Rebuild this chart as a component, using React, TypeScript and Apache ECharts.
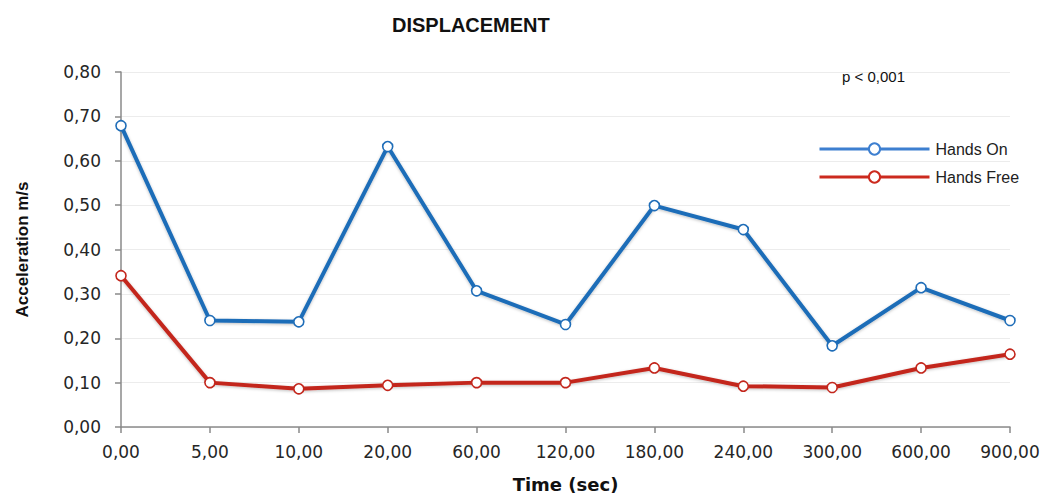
import React, { useEffect, useRef } from "react";
import * as echarts from "echarts";

const categories = ["0,00", "5,00", "10,00", "20,00", "60,00", "120,00", "180,00", "240,00", "300,00", "600,00", "900,00"];
const handsOn = [0.679, 0.24, 0.237, 0.632, 0.307, 0.231, 0.499, 0.445, 0.183, 0.314, 0.24];
const handsFree = [0.341, 0.1, 0.086, 0.094, 0.1, 0.1, 0.133, 0.092, 0.089, 0.133, 0.164];
const yTicks = { min: 0, max: 0.8, interval: 0.1 };

const BLUE = "#1f6db8";
const RED = "#c3261c";

export default function App() {
  const ref = useRef<HTMLDivElement>(null);
  useEffect(() => {
    document.body.style.margin = "0";
    const chart = echarts.init(ref.current!, null, { renderer: "svg" });
    const mkSeries = (name: string, data: number[], color: string) => ({
      name,
      type: "line",
      data,
      symbol: "circle",
      symbolSize: 10,
      showAllSymbol: true,
      itemStyle: { color: "#ffffff", borderColor: color, borderWidth: 1.6 },
      lineStyle: {
        color,
        width: 4,
        shadowColor: "rgba(0,0,0,0.25)",
        shadowBlur: 3,
        shadowOffsetY: 1,
      },
      emphasis: { disabled: true },
    });
    chart.setOption({
      animation: false,
      title: {
        text: "DISPLACEMENT",
        left: 387,
        top: 10,
        textStyle: { fontFamily: "Liberation Sans", fontWeight: "bold", fontSize: 20, color: "#111" },
      },
      graphic: [
        {
          type: "text",
          left: 842,
          top: 69,
          z: 100,
          style: { text: "p < 0,001", font: "15px 'Liberation Sans'", fill: "#111" },
        },
      ],
      legend: {
        orient: "vertical",
        left: 813,
        top: 136,
        itemWidth: 110,
        itemHeight: 14,
        itemGap: 12,
        textStyle: { fontFamily: "Liberation Sans", fontSize: 16, color: "#222", padding: [0, 0, 4, 1] },
        data: [
          { name: "Hands On", itemStyle: { color: "#fff", borderColor: "#3d7fd0", borderWidth: 2 }, lineStyle: { color: "#3d7fd0", width: 3 } },
          { name: "Hands Free", itemStyle: { color: "#fff", borderColor: "#cc2a1e", borderWidth: 2 }, lineStyle: { color: "#cc2a1e", width: 3 } },
        ],
      },
      grid: { left: 121, right: 35, top: 72, bottom: 65 },
      xAxis: {
        type: "category",
        data: categories,
        boundaryGap: false,
        name: "Time (sec)",
        nameLocation: "middle",
        nameGap: 48,
        nameTextStyle: { fontFamily: "DejaVu Sans", fontWeight: "bold", fontSize: 18, color: "#111" },
        axisLine: { lineStyle: { color: "#8a8a8a", width: 1.5 } },
        axisTick: { show: true, length: 6, lineStyle: { color: "#8a8a8a", width: 1.5 } },
        axisLabel: { margin: 16, fontFamily: "DejaVu Sans", fontSize: 17, color: "#262626", interval: 0 },
        splitLine: { show: false },
      },
      yAxis: {
        type: "value",
        min: yTicks.min,
        max: yTicks.max,
        interval: yTicks.interval,
        name: "Acceleration m/s",
        nameLocation: "middle",
        nameGap: 90,
        nameTextStyle: { fontFamily: "Liberation Sans", fontWeight: "bold", fontSize: 17, color: "#111" },
        axisLine: { show: true, lineStyle: { color: "#8a8a8a", width: 1.5 } },
        axisTick: { show: true, length: 6, lineStyle: { color: "#8a8a8a", width: 1.5 } },
        axisLabel: {
          margin: 20,
          fontFamily: "DejaVu Sans",
          fontSize: 17,
          color: "#262626",
          formatter: (v: number) => v.toFixed(2).replace(".", ","),
        },
        splitLine: { show: true, lineStyle: { color: "#ececec", width: 1 } },
      },
      series: [mkSeries("Hands On", handsOn, BLUE), mkSeries("Hands Free", handsFree, RED)],
    });
    return () => chart.dispose();
  }, []);
  return <div ref={ref} style={{ width: 1045, height: 498 }} />;
}
